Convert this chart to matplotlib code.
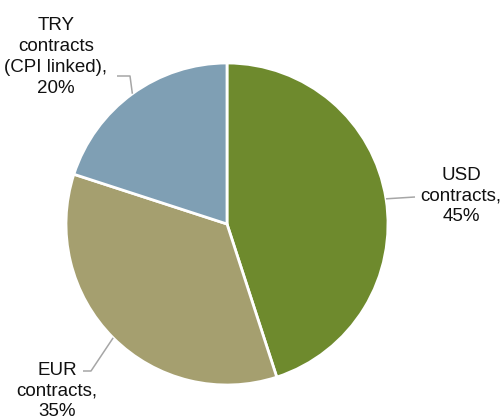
import numpy as np
import matplotlib
matplotlib.use("Agg")
import matplotlib.pyplot as plt

# Currency split of contracts
categories = ["USD\ncontracts,", "EUR\ncontracts,", "TRY\ncontracts\n(CPI linked),"]
shares = [45, 35, 20]
colors = ["#6E8A2D", "#A59F6F", "#7F9FB4"]

W, H = 502, 419
plt.rcParams["font.family"] = ["Liberation Sans", "DejaVu Sans"]

fig = plt.figure(figsize=(W / 100, H / 100), dpi=100)
ax = fig.add_axes([0, 0, 1, 1])

cx, cy, r = 227, H - 224, 161
wedges, _ = ax.pie(shares, colors=colors, startangle=90, counterclock=False,
                   center=(cx, cy), radius=r, frame=True,
                   wedgeprops=dict(edgecolor="white", linewidth=2.0))
ax.set_xlim(0, W)
ax.set_ylim(0, H)
ax.set_aspect("equal")
ax.axis("off")

# label block centres and leader elbows (pixel space, y down)
label_pos = [(461, 196), (57, 391), (56, 57)]
leader_mid = [(415, 197), (91, 371), (130, 76)]
leader_end = [(415, 197), (83, 371), (117, 76)]

for w, lab, val, (lx, ly), (mx, my), (ex, ey) in zip(
        wedges, categories, shares, label_pos, leader_mid, leader_end):
    ang = np.deg2rad((w.theta1 + w.theta2) / 2)
    px, py = cx + r * np.cos(ang), cy + r * np.sin(ang)
    ax.plot([px, mx, ex], [py, H - my, H - ey], color="#A6A6A6", lw=1.1,
            solid_capstyle="butt")
    ax.text(lx, H - ly, f"{lab}\n{val}%", ha="center", va="center",
            fontsize=13.5, color="#111111", linespacing=1.3)

fig.savefig("out.png", dpi=100)
